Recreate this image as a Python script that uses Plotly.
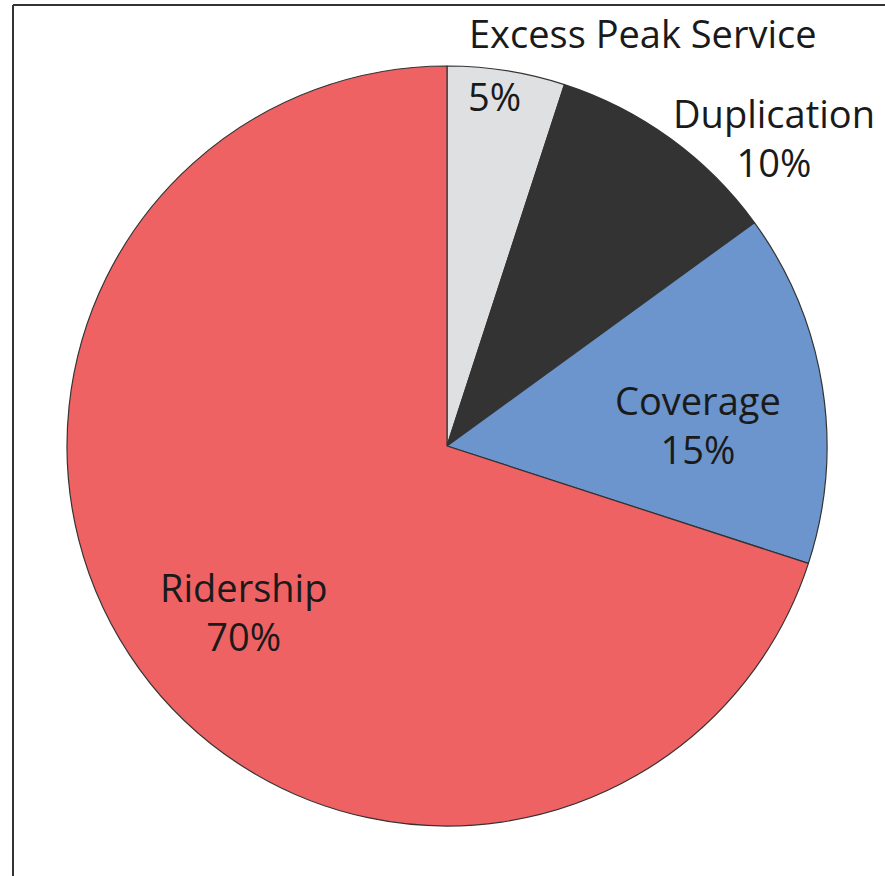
import plotly.graph_objects as go

labels = ["Excess Peak Service", "Duplication", "Coverage", "Ridership"]
values = [5, 10, 15, 70]
colors = ["#DFE0E2", "#333333", "#6B95CC", "#EF6264"]

W, H = 885, 876
cx, cy, r = 447, 446, 380

fig = go.Figure(go.Pie(
    labels=labels, values=values, sort=False, direction="clockwise", rotation=0,
    marker=dict(colors=colors, line=dict(color="#333333", width=1.2)),
    textinfo="none", hoverinfo="label+percent", showlegend=False,
    domain=dict(x=[(cx - r) / W, (cx + r) / W], y=[1 - (cy + r) / H, 1 - (cy - r) / H]),
))

font = dict(family="Open Sans", size=38, color="#1a1a1a")

# "Excess Peak Service" name sits above the pie, its percent inside the slice
split_pos = {"Excess Peak Service": [(643, 33), (495, 96)]}
# two-line labels: centre of the block (pixels)
block_pos = {"Duplication": (774, 137), "Coverage": (698, 424), "Ridership": (243, 611)}

for lab, val in zip(labels, values):
    if lab in split_pos:
        (x1, y1), (x2, y2) = split_pos[lab]
        fig.add_annotation(x=x1 / W, y=1 - y1 / H, xref="paper", yref="paper", text=lab,
                           showarrow=False, font=font, xanchor="center", yanchor="middle")
        fig.add_annotation(x=x2 / W, y=1 - y2 / H, xref="paper", yref="paper", text=f"{val}%",
                           showarrow=False, font=font, xanchor="center", yanchor="middle")
    else:
        x, y = block_pos[lab]
        fig.add_annotation(x=x / W, y=1 - y / H, xref="paper", yref="paper",
                           text=f"{lab}<br>{val}%", align="center",
                           showarrow=False, font=font, xanchor="center", yanchor="middle")

# frame lines (left and top)
fig.add_shape(type="line", xref="paper", yref="paper", x0=13 / W, x1=13 / W, y0=0, y1=1 - 5 / H,
              line=dict(color="#333333", width=2))
fig.add_shape(type="line", xref="paper", yref="paper", x0=13 / W, x1=1, y0=1 - 5 / H, y1=1 - 5 / H,
              line=dict(color="#333333", width=2))

fig.update_layout(width=W, height=H, margin=dict(l=0, r=0, t=0, b=0),
                  paper_bgcolor="white", plot_bgcolor="white")
fig.write_html("out.html")
